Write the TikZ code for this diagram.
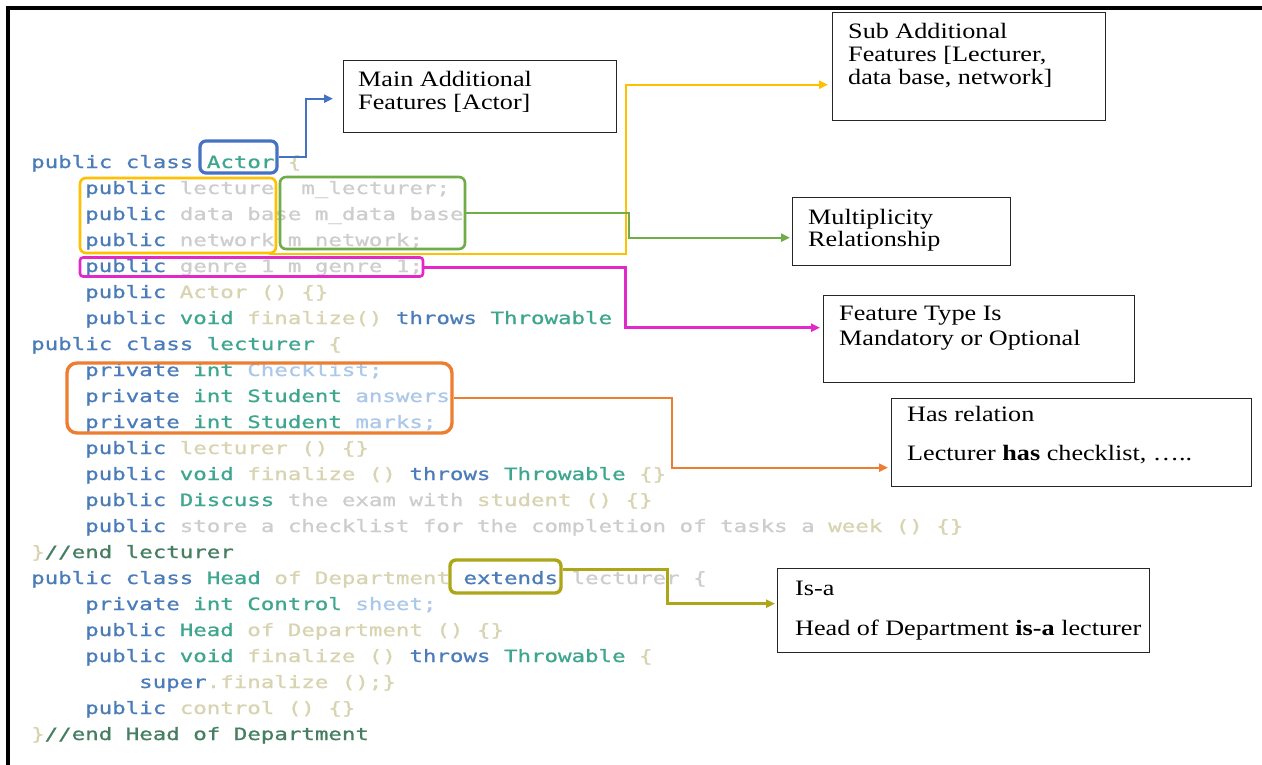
\documentclass[tikz,border=0pt]{standalone}
\usepackage{fontspec}
\usetikzlibrary{arrows.meta,calc}

\newfontfamily\codefont[FakeStretch=1.32,FakeBold=1.0]{DejaVu Sans Mono}
\newfontfamily\lblfont[FakeStretch=1.19]{Liberation Serif}

% syntax colours of the code listing
\definecolor{ckwcol}{RGB}{74,124,186}
\definecolor{ctycol}{RGB}{62,166,142}
\definecolor{cfgcol}{RGB}{205,205,205}
\definecolor{cfbcol}{RGB}{172,200,232}
\definecolor{cfycol}{RGB}{216,211,176}
\definecolor{ccmcol}{RGB}{70,126,98}
% highlight colours
\definecolor{hlblue}{RGB}{68,114,196}
\definecolor{hlyellow}{RGB}{255,192,0}
\definecolor{hlgreen}{RGB}{112,173,71}
\definecolor{hlmagenta}{RGB}{226,40,200}
\definecolor{hlorange}{RGB}{237,125,49}
\definecolor{hlolive}{RGB}{172,166,24}

\newcommand{\ckw}[1]{\textcolor{ckwcol}{#1}}
\newcommand{\cty}[1]{\textcolor{ctycol}{#1}}
\newcommand{\cfg}[1]{\textcolor{cfgcol}{#1}}
\newcommand{\cfb}[1]{\textcolor{cfbcol}{#1}}
\newcommand{\cfy}[1]{\textcolor{cfycol}{#1}}
\newcommand{\ccm}[1]{\textcolor{ccmcol}{#1}}

\begin{document}
\begin{tikzpicture}[x=1pt,y=-1pt,
  code/.style={anchor=base west, inner sep=0pt, font=\codefont\fontsize{17}{20}\selectfont},
  hl/.style={draw, rounded corners=6pt, line width=2.6pt, inner sep=0pt},
  lblbox/.style={draw=black!85, line width=1.4pt, anchor=north west, inner sep=0pt},
  lbltext/.style={anchor=base west, inner sep=0pt, font=\lblfont\fontsize{22}{26}\selectfont},
  conn/.style={line width=2.2pt, -{Triangle[length=9pt,width=8pt]}},
]
\fill[white] (0,0) rectangle (1262,765);
\useasboundingbox (0,0) rectangle (1262,765);

% page frame
\draw[line width=4pt] (1262,8) -- (8,8) -- (8,765);

% code listing
\def\xa{31}\def\xb{85}\def\xc{139}
\node[code] (l00) at (\xa,168) {\ckw{public class} \cty{Actor} \cfy{\{}};
\node[code] (l01) at (\xb,194) {\ckw{public} \cfg{lecture\ \ m\_lecturer;}};
\node[code] (l02) at (\xb,220) {\ckw{public} \cfg{data base m\_data base}};
\node[code] (l03) at (\xb,246) {\ckw{public} \cfg{network m\_network;}};
\node[code] (l04) at (\xb,272) {\ckw{public} \cfg{genre 1 m genre 1;}};
\node[code] (l05) at (\xb,298) {\ckw{public} \cfy{Actor () \{\}}};
\node[code] (l06) at (\xb,324) {\ckw{public} \cty{void} \cfy{finalize()} \ckw{throws} \cty{Throwable}};
\node[code] (l07) at (\xa,350) {\ckw{public class} \cty{lecturer} \cfy{\{}};
\node[code] (l08) at (\xb,376) {\ckw{private} \cty{int} \cfb{Checklist;}};
\node[code] (l09) at (\xb,402) {\ckw{private} \cty{int Student} \cfb{answers}};
\node[code] (l10) at (\xb,428) {\ckw{private} \cty{int Student} \cfb{marks;}};
\node[code] (l11) at (\xb,454) {\ckw{public} \cfy{lecturer () \{\}}};
\node[code] (l12) at (\xb,480) {\ckw{public} \cty{void} \cfy{finalize ()} \ckw{throws} \cty{Throwable} \cfy{\{\}}};
\node[code] (l13) at (\xb,506) {\ckw{public} \cty{Discuss} \cfg{the exam with} \cfy{student () \{\}}};
\node[code] (l14) at (\xb,532) {\ckw{public} \cfg{store a checklist for the completion of tasks a} \cfy{week () \{\}}};
\node[code] (l15) at (\xa,558) {\cfy{\}}\ccm{//end lecturer}};
\node[code] (l16) at (\xa,584) {\ckw{public class} \cty{Head} \cfy{of Department} \ckw{extends} \cfg{lecturer \{}};
\node[code] (l17) at (\xb,610) {\ckw{private} \cty{int Control} \cfb{sheet;}};
\node[code] (l18) at (\xb,636) {\ckw{public} \cty{Head} \cfy{of Department () \{\}}};
\node[code] (l19) at (\xb,662) {\ckw{public} \cty{void} \cfy{finalize ()} \ckw{throws} \cty{Throwable} \cfy{\{}};
\node[code] (l20) at (\xc,688) {\ckw{super}\cfy{.finalize ();\}}};
\node[code] (l21) at (\xb,714) {\ckw{public} \cfy{control () \{\}}};
\node[code] (l22) at (\xa,740) {\cfy{\}}\ccm{//end Head of Department}};

% highlight frames on the listing
\node[hl, draw=hlblue, line width=3.2pt, minimum width=77pt, minimum height=32pt] (actorbox) at (238.5,157) {};
\node[hl, draw=hlyellow, minimum width=196pt, minimum height=75pt] (yelbox) at (178,215.5) {};
\node[hl, draw=hlgreen, minimum width=185pt, minimum height=72pt] (grnbox) at (372.5,213) {};
\node[hl, draw=hlmagenta, rounded corners=3pt, minimum width=343pt, minimum height=19pt] (magbox) at (251.5,267) {};
\node[hl, draw=hlorange, line width=3.4pt, rounded corners=10pt, minimum width=385pt, minimum height=70pt] (orgbox) at (259.5,398) {};
\node[hl, draw=hlolive, line width=3.4pt, minimum width=111pt, minimum height=33pt] (extbox) at (505.5,576.5) {};

% explanation boxes
\node[lblbox, minimum width=273pt, minimum height=72pt] (mainbox) at (343,60) {};
\node[lblbox, minimum width=273pt, minimum height=108pt] (subbox) at (832,12) {};
\node[lblbox, minimum width=218pt, minimum height=68pt] (multbox) at (792,197) {};
\node[lblbox, minimum width=311pt, minimum height=87pt] (featbox) at (823,295) {};
\node[lblbox, minimum width=360pt, minimum height=88pt] (hasbox) at (891,398) {};
\node[lblbox, minimum width=372pt, minimum height=84pt] (isabox) at (777,568) {};

\node[lbltext] (main1) at (358,87) {Main Additional};
\node[lbltext] (main2) at (358,110) {Features [Actor]};
\node[lbltext] (sub1) at (848,39) {Sub Additional};
\node[lbltext] (sub2) at (848,62) {Features [Lecturer,};
\node[lbltext] (sub3) at (848,85) {data base, network]};
\node[lbltext] (mult1) at (808,225) {Multiplicity};
\node[lbltext] (mult2) at (808,247) {Relationship};
\node[lbltext] (feat1) at (839,320) {Feature Type Is};
\node[lbltext] (feat2) at (839,345) {Mandatory or Optional};
\node[lbltext] (has1) at (907,421) {Has relation};
\node[lbltext] (has2) at (907,460) {Lecturer \textbf{has} checklist, …..};
\node[lbltext] (isa1) at (795,595) {Is-a};
\node[lbltext] (isa2) at (795,635) {Head of Department \textbf{is-a} lecturer};

% connectors
\draw[conn, hlblue] (actorbox.east) -- ++(27,0) |- ($(mainbox.west)+(-10,2)$);
\draw[conn, hlyellow] ($(yelbox.south east)+(-8,0)$) -- ++(357,0) |- ($(subbox.west)+(-4,18)$);
\draw[conn, hlgreen] (grnbox.east) -- ++(163,0) |- ($(multbox.west)+(-2,6)$);
\draw[conn, hlmagenta, line width=3pt] (magbox.east) -- ++(201,0) |- ($(featbox.west)+(-3,-11.5)$);
\draw[conn, hlorange] (orgbox.east) -- ++(218,0) |- ($(hasbox.west)+(-3,25)$);
\draw[conn, hlolive, line width=3.4pt] ($(extbox.east)+(0,-7)$) -- ++(105,0) |- ($(isabox.west)+(-2,-7)$);
\end{tikzpicture}
\end{document}
